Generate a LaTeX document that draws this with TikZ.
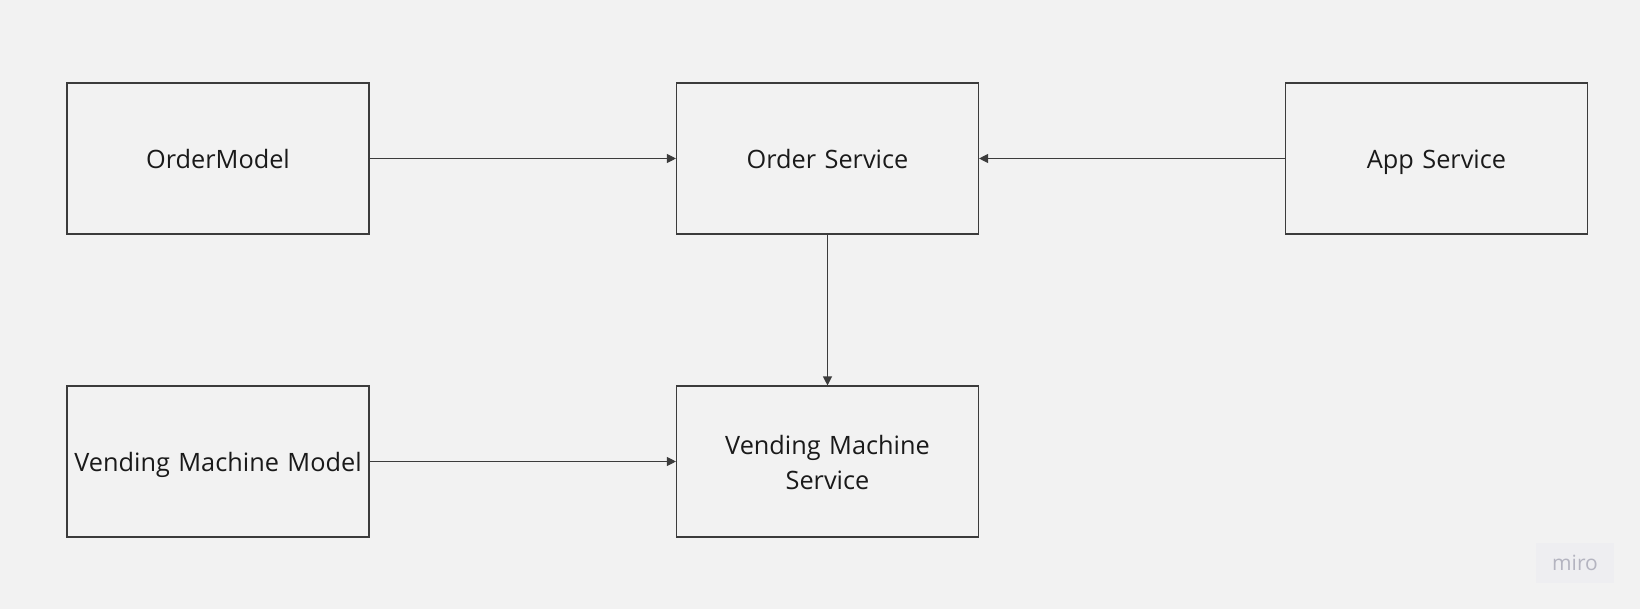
\documentclass[tikz,border=0pt]{standalone}
\usepackage{fontspec}
\setmainfont{Open Sans}
\usetikzlibrary{arrows.meta}
\definecolor{bg}{HTML}{F2F2F2}
\definecolor{edge}{HTML}{3C3C3C}
\definecolor{txt}{HTML}{1A1A1A}
\definecolor{logo}{HTML}{B4B4C0}
\definecolor{logobg}{HTML}{EEEEF1}
\begin{document}
\begin{tikzpicture}[x=1pt,y=-1pt,
  box/.style={draw=edge,line width=1.1pt,fill=bg,minimum width=302pt,minimum height=151pt,
    inner sep=0pt,align=center,text width=295pt,font=\fontsize{25.3}{35}\selectfont,text=txt,
    execute at begin node={\rule{0pt}{30.5pt}}, execute at end node=\strut},
  conn/.style={draw=edge,line width=1.1pt,-{Triangle[length=9pt,width=9pt]}}]
\fill[bg] (0,0) rectangle (1640,609);
\useasboundingbox (0,0) rectangle (1640,609);
\node[box] (om) at (218,158.5) {OrderModel};
\node[box] (os) at (827.5,158.5) {Order Service};
\node[box] (as) at (1436.5,158.5) {App Service};
\node[box] (vmm) at (218,461.5) {Vending Machine Model};
\node[box] (vms) at (827.5,461.5) {Vending Machine\\Service};
\draw[conn] (om) -- (os);
\draw[conn] (as) -- (os);
\draw[conn] (os) -- (vms);
\draw[conn] (vmm) -- (vms);
\node[fill=logobg,minimum width=78pt,minimum height=40pt,text=logo,font=\fontsize{21}{21}\selectfont] (miro) at (1575,563) {miro};
\end{tikzpicture}
\end{document}
